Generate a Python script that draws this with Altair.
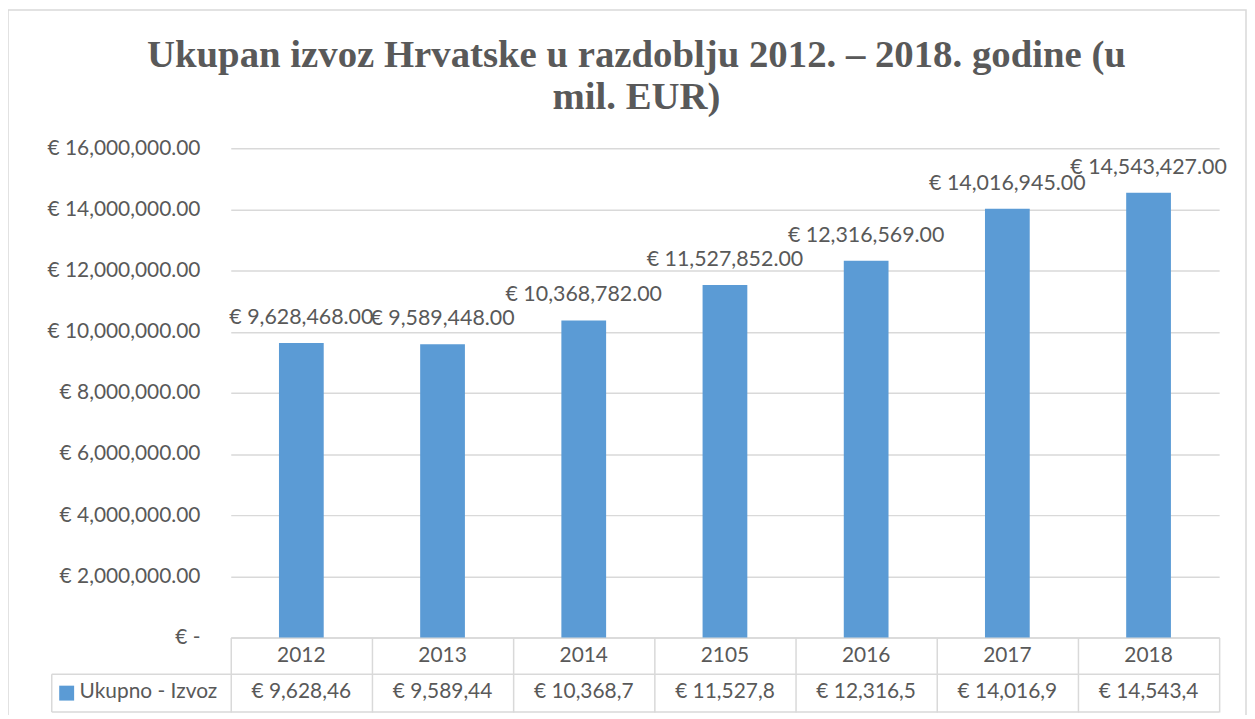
import altair as alt
import pandas as pd

years = ["2012", "2013", "2014", "2105", "2016", "2017", "2018"]
values = [9628468, 9589448, 10368782, 11527852, 12316569, 14016945, 14543427]
y_ticks = [0, 2000000, 4000000, 6000000, 8000000, 10000000, 12000000, 14000000, 16000000]
series_name = "Ukupno - Izvoz"
title_lines = ["Ukupan izvoz Hrvatske u razdoblju 2012. – 2018. godine (u", "mil. EUR)"]

BAR = "#5B9BD5"
TXT = "#595959"
GRID = "#D9D9D9"
FONT = "Lato"
FS = 21.5

W, H = 994, 492

full = ["€ {:,.2f}".format(v) for v in values]
df = pd.DataFrame({
    "year": years,
    "value": values,
    "label": full,
    "table": [s[:10] for s in full],
})
one = pd.DataFrame({"k": [0]})

x = alt.X("year:N", sort=years, title=None,
          scale=alt.Scale(paddingInner=0, paddingOuter=0),
          axis=alt.Axis(labels=False, tickBand="extent", tickSize=75, tickColor=GRID,
                        domainColor=GRID, grid=False, tickWidth=1.5, domainWidth=1.5))
y = alt.Y("value:Q", title=None,
          scale=alt.Scale(domain=[0, 16000000], nice=False),
          axis=alt.Axis(values=y_ticks, domain=False, ticks=False, gridColor=GRID, gridWidth=1.5,
                        labelFont=FONT, labelFontSize=21, labelColor=TXT, labelPadding=31,
                        labelExpr="datum.value == 0 ? '€ -\u00a0\u00a0' : '€ ' + format(datum.value, ',.2f')"))

base = alt.Chart(df)

border = alt.Chart(one).mark_rect(fillOpacity=0, stroke=GRID, strokeWidth=1.5).encode(
    x=alt.value(-224), x2=alt.value(1021), y=alt.value(-139), y2=alt.value(600))

title1 = alt.Chart(one).mark_text(font="Liberation Serif", fontSize=39, fontWeight="bold", color=TXT,
                                  align="center", baseline="alphabetic").encode(
    x=alt.value(408), y=alt.value(-82), text=alt.value(title_lines[0]))
title2 = alt.Chart(one).mark_text(font="Liberation Serif", fontSize=39, fontWeight="bold", color=TXT,
                                  align="center", baseline="alphabetic").encode(
    x=alt.value(408), y=alt.value(-39), text=alt.value(title_lines[1]))

bars = base.mark_bar(size=45, color=BAR).encode(x=x, y=y)

labels = base.mark_text(font=FONT, fontSize=FS, color=TXT, baseline="alphabetic", dy=-19).encode(
    x=alt.X("year:N", sort=years), y="value:Q", text="label:N")

year_row = base.mark_text(font=FONT, fontSize=21, color=TXT, baseline="middle").encode(
    x=alt.X("year:N", sort=years), y=alt.value(511), text="year:N")

val_row = base.mark_text(font=FONT, fontSize=21, color=TXT, baseline="middle").encode(
    x=alt.X("year:N", sort=years), y=alt.value(547), text="table:N")

rule_mid = alt.Chart(one).mark_rule(color=GRID, strokeWidth=1.5).encode(
    x=alt.value(-180), x2=alt.value(W), y=alt.value(529))
rule_bot = alt.Chart(one).mark_rule(color=GRID, strokeWidth=1.5).encode(
    x=alt.value(-180), x2=alt.value(W), y=alt.value(567))
rule_left = alt.Chart(one).mark_rule(color=GRID, strokeWidth=1.5).encode(
    x=alt.value(-180), y=alt.value(529), y2=alt.value(567))

leg_sq = alt.Chart(one).mark_square(size=225, color=BAR, opacity=1).encode(
    x=alt.value(-165), y=alt.value(548))
leg_txt = alt.Chart(one).mark_text(font=FONT, fontSize=21, color=TXT, align="left", baseline="middle").encode(
    x=alt.value(-152), y=alt.value(547), text=alt.value(series_name))

chart = alt.layer(border, title1, title2, bars, labels, year_row, val_row,
                  rule_mid, rule_bot, rule_left, leg_sq, leg_txt).properties(
    width=W, height=H,
    autosize="none",
    padding={"left": 224, "top": 139, "right": 28, "bottom": 76},
).configure_view(stroke=None)

chart.save("out.html", embed_options={"renderer": "svg", "actions": False})
